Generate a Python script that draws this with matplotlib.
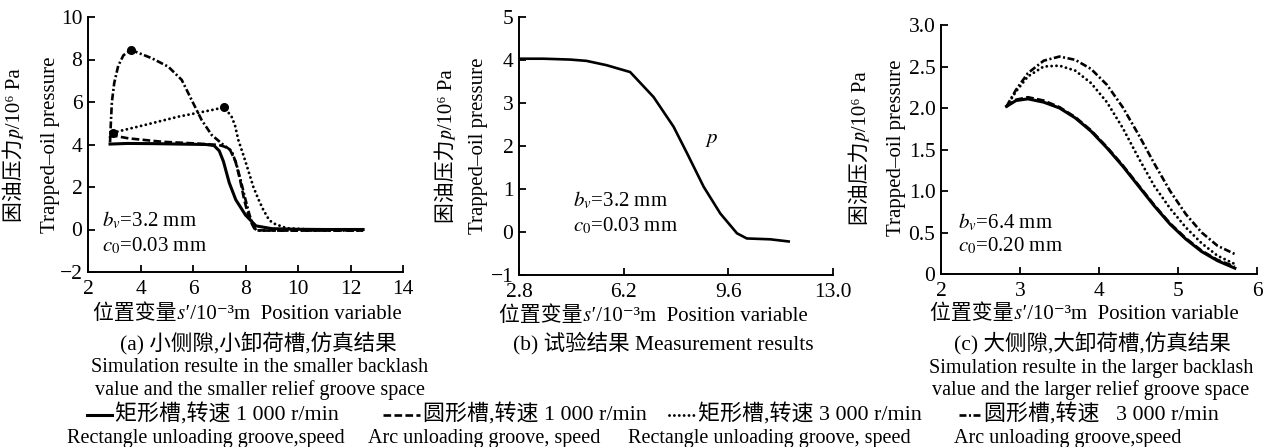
import matplotlib
matplotlib.use('Agg')
import matplotlib.pyplot as plt
from matplotlib.lines import Line2D

plt.rcParams['font.family'] = ['Liberation Serif', 'Noto Sans CJK SC', 'STIXGeneral', 'DejaVu Serif']
plt.rcParams['mathtext.fontset'] = 'stix'
plt.rcParams['lines.scale_dashes'] = False
plt.rcParams['axes.unicode_minus'] = True

W, H = 1271, 447

# ---------------- data: panel (a) small backlash, small groove ----------------
a_rect1000_x = [2.84, 3.5, 4.5, 5.5, 6.5, 6.8, 7.0, 7.16, 7.38, 7.63, 8.0, 8.4, 9.0, 10.0, 11.0, 12.48]
a_rect1000_y = [4.02, 4.05, 4.04, 4.02, 4.0, 3.95, 3.7, 3.2, 2.2, 1.4, 0.68, 0.17, 0.04, 0.01, 0.0, 0.0]

a_arc1000_x = [2.84, 3.54, 4.81, 6.08, 6.97, 7.2, 7.41, 7.62, 7.8, 7.95, 8.1, 8.25, 8.38, 9.5, 11.0, 12.48]
a_arc1000_y = [4.45, 4.29, 4.13, 4.05, 3.98, 3.9, 3.75, 3.2, 2.3, 1.4, 0.7, 0.25, -0.04, -0.05, -0.05, -0.05]

a_rect3000_x = [2.84, 2.96, 4.17, 5.44, 6.71, 7.19, 7.47, 7.6, 7.73, 7.92, 8.1, 8.3, 8.5, 8.68, 8.9, 9.06, 9.57, 10.5, 12.48]
a_rect3000_y = [4.35, 4.56, 4.92, 5.31, 5.62, 5.75, 5.31, 4.9, 4.2, 3.5, 2.8, 2.0, 1.4, 0.92, 0.45, 0.29, 0.06, 0.0, 0.0]

a_arc3000_x = [2.84, 2.87, 2.91, 3.0, 3.15, 3.35, 3.64, 4.43, 5.06, 5.57, 5.95, 6.33, 6.71, 7.16, 7.47, 7.65, 7.82, 7.98, 8.15, 8.3, 8.42, 10.0, 12.48]
a_arc3000_y = [4.1, 5.0, 6.0, 6.9, 7.7, 8.2, 8.45, 8.06, 7.66, 7.04, 6.09, 5.15, 4.45, 3.98, 3.7, 3.1, 2.3, 1.5, 0.7, 0.15, -0.05, -0.05, -0.05]

a_rect3000_marks = [1, 5]
a_arc3000_marks = [6]

# ---------------- data: panel (b) measurement ----------------
b_x = [2.83, 3.6, 4.46, 4.99, 5.64, 6.41, 7.17, 7.82, 8.26, 8.80, 9.34, 9.88, 10.20, 10.96, 11.56]
b_y = [4.03, 4.03, 4.01, 3.98, 3.88, 3.72, 3.14, 2.45, 1.83, 1.05, 0.43, -0.03, -0.15, -0.17, -0.22]

# ---------------- data: panel (c) large backlash, large groove ----------------
c_x = [2.83, 2.95, 3.1, 3.3, 3.5, 3.7, 3.9, 4.1, 4.3, 4.5, 4.7, 4.9, 5.1, 5.3, 5.5, 5.72]
c_rect1000_y = [2.02, 2.09, 2.11, 2.07, 2.0, 1.88, 1.72, 1.52, 1.30, 1.06, 0.82, 0.60, 0.42, 0.27, 0.16, 0.07]
c_arc1000_y = [2.02, 2.10, 2.13, 2.09, 2.01, 1.89, 1.73, 1.53, 1.31, 1.07, 0.83, 0.61, 0.43, 0.28, 0.17, 0.09]
c_rect3000_y = [2.02, 2.20, 2.38, 2.50, 2.51, 2.45, 2.30, 2.07, 1.76, 1.40, 1.06, 0.79, 0.56, 0.37, 0.22, 0.12]
c_arc3000_y = [2.02, 2.22, 2.42, 2.57, 2.62, 2.58, 2.47, 2.28, 2.01, 1.68, 1.33, 1.00, 0.72, 0.50, 0.34, 0.24]

# ---------------- tick labels ----------------
a_xticks = [2, 4, 6, 8, 10, 12, 14]
a_yticks = [-2, 0, 2, 4, 6, 8, 10]
b_xticks = [2.8, 6.2, 9.6, 13.0]
b_xticklabels = ['2.8', '6.2', '9.6', '13.0']
b_yticks = [-1, 0, 1, 2, 3, 4, 5]
c_xticks = [2, 3, 4, 5, 6]
c_yticks = [0, 0.5, 1.0, 1.5, 2.0, 2.5, 3.0]
c_yticklabels = ['0', '0.5', '1.0', '1.5', '2.0', '2.5', '3.0']

legend_cn = ['矩形槽,转速 1 000 r/min', '圆形槽,转速 1 000 r/min',
             '矩形槽,转速 3 000 r/min', '圆形槽,转速   3 000 r/min']
legend_en = ['Rectangle unloading groove,speed', 'Arc unloading groove, speed',
             'Rectangle unloading groove, speed', 'Arc unloading groove,speed']

# ---------------- styles ----------------
LW = 1.9
st_rect1000 = dict(color='black', lw=LW + 0.3, linestyle='-')
st_arc1000 = dict(color='black', lw=LW, linestyle=(0, (5.5, 2.4)))
st_rect3000 = dict(color='black', lw=2.1, linestyle=(0, (0.01, 3.5)), dash_capstyle='round')
st_arc3000 = dict(color='black', lw=LW, linestyle=(0, (5, 1.8, 1.5, 1.8)))
styles = [st_rect1000, st_arc1000, st_rect3000, st_arc3000]

FS_TICK = 15.5
FS_LAB = 15
FS_CAP = 14.5
FS_CAPCN = 15.5
FS_LEGCN = 15.8


def px_axes(l, t, r, b):
    return [l / W, 1 - b / H, (r - l) / W, (b - t) / H]


def fx(x):
    return x / W


def fy(y):
    return 1 - y / H


fig = plt.figure(figsize=(W / 100, H / 100), dpi=100)


def style_axes(ax):
    for s in ['top', 'right']:
        ax.spines[s].set_visible(False)
    for s in ['left', 'bottom']:
        ax.spines[s].set_linewidth(1.4)
    ax.tick_params(direction='in', length=5, width=1.3, labelsize=FS_TICK)
    ax.tick_params(axis='y', pad=4)
    ax.tick_params(axis='x', pad=6)


# ---- panel (a)
axa = fig.add_axes(px_axes(88, 17, 403, 272))
axa.plot(a_rect1000_x, a_rect1000_y, **st_rect1000)
axa.plot(a_arc1000_x, a_arc1000_y, **st_arc1000)
axa.plot(a_rect3000_x, a_rect3000_y, marker='o', markersize=5.5, markevery=a_rect3000_marks, **st_rect3000)
axa.plot(a_arc3000_x, a_arc3000_y, marker='o', markersize=5.5, markevery=a_arc3000_marks, **st_arc3000)
axa.set_xlim(2, 14)
axa.set_ylim(-2, 10)
axa.set_xticks(a_xticks)
axa.set_yticks(a_yticks)
axa.set_yticklabels(['\u22122' if v < 0 else str(v) for v in a_yticks])
style_axes(axa)

# ---- panel (b)
axb = fig.add_axes(px_axes(519, 17, 833, 275))
axb.plot(b_x, b_y, color='black', lw=LW)
axb.set_xlim(2.8, 13.0)
axb.set_ylim(-1, 5)
axb.set_xticks(b_xticks)
axb.set_xticklabels(b_xticklabels)
axb.set_yticks(b_yticks)
axb.set_yticklabels(['\u22121' if v < 0 else str(v) for v in b_yticks])
style_axes(axb)
axb.text(9.06, 2.14, r'$p$', fontsize=FS_LAB, ha='center', va='center')

# ---- panel (c)
axc = fig.add_axes(px_axes(941, 25, 1257, 274))
axc.plot(c_x, c_rect1000_y, **st_rect1000)
axc.plot(c_x, c_arc1000_y, **st_arc1000)
axc.plot(c_x, c_rect3000_y, **st_rect3000)
axc.plot(c_x, c_arc3000_y, **st_arc3000)
axc.set_xlim(2, 6)
axc.set_ylim(0, 3.0)
axc.set_xticks(c_xticks)
axc.set_yticks(c_yticks)
axc.set_yticklabels(c_yticklabels)
style_axes(axc)

# ---- axis labels
ylab_cn = '困油压力𝑝/10⁶ Pa'
ylab_en = 'Trapped\u2013oil pressure'
xlab = '位置变量𝑠′/10⁻³m  Position variable'
for (xc, xe, yc) in [(15, 51, 145), (447, 478, 146), (861, 896, 148)]:
    fig.text(fx(xc), fy(yc), ylab_cn, rotation=90, ha='center', va='center', fontsize=FS_LAB)
    fig.text(fx(xe), fy(yc), ylab_en, rotation=90, ha='center', va='center', fontsize=FS_LAB)
for (xc, yc) in [(247, 314), (653, 316), (1084, 314)]:
    fig.text(fx(xc), fy(yc), xlab, ha='center', va='center', fontsize=FS_LAB)

# ---- parameter annotations
for (x0, y1, y2, bt, ct) in [(102, 220, 246, '=3.2 mm', '=0.03 mm'),
                             (573, 200, 226, '=3.2 mm', '=0.03 mm'),
                             (958, 222, 246, '=6.4 mm', '=0.20 mm')]:
    fig.text(fx(x0), fy(y1), r'$b_v$' + bt, ha='left', va='center', fontsize=FS_LAB)
    fig.text(fx(x0), fy(y2), r'$c_0$' + ct, ha='left', va='center', fontsize=FS_LAB)

# ---- captions
fig.text(fx(258), fy(343), '(a) 小侧隙,小卸荷槽,仿真结果', ha='center', va='center', fontsize=FS_CAPCN)
fig.text(fx(260), fy(368), 'Simulation resulte in the smaller backlash', ha='center', va='center', fontsize=FS_CAP)
fig.text(fx(260), fy(390), 'value and the smaller relief groove space', ha='center', va='center', fontsize=FS_CAP)
fig.text(fx(663), fy(343), '(b) 试验结果 Measurement results', ha='center', va='center', fontsize=FS_CAPCN)
fig.text(fx(1092), fy(343), '(c) 大侧隙,大卸荷槽,仿真结果', ha='center', va='center', fontsize=FS_CAPCN)
fig.text(fx(1091), fy(368), 'Simulation resulte in the larger backlash', ha='center', va='center', fontsize=FS_CAP)
fig.text(fx(1091), fy(390), 'value and the larger relief groove space', ha='center', va='center', fontsize=FS_CAP)

# ---- legend row
leg_line = [(87, 112), (383, 420), (669, 695), (959, 981)]
leg_en_x = [67, 368, 628, 954]
for i in range(4):
    x0, x1 = leg_line[i]
    fig.add_artist(Line2D([fx(x0), fx(x1)], [fy(415), fy(415)], transform=fig.transFigure, **styles[i]))
    fig.text(fx(x1 + 3), fy(415), legend_cn[i], ha='left', va='center', fontsize=FS_LEGCN)
    fig.text(fx(leg_en_x[i]), fy(438), legend_en[i], ha='left', va='center', fontsize=FS_CAP)

fig.savefig('out.png', dpi=100)
